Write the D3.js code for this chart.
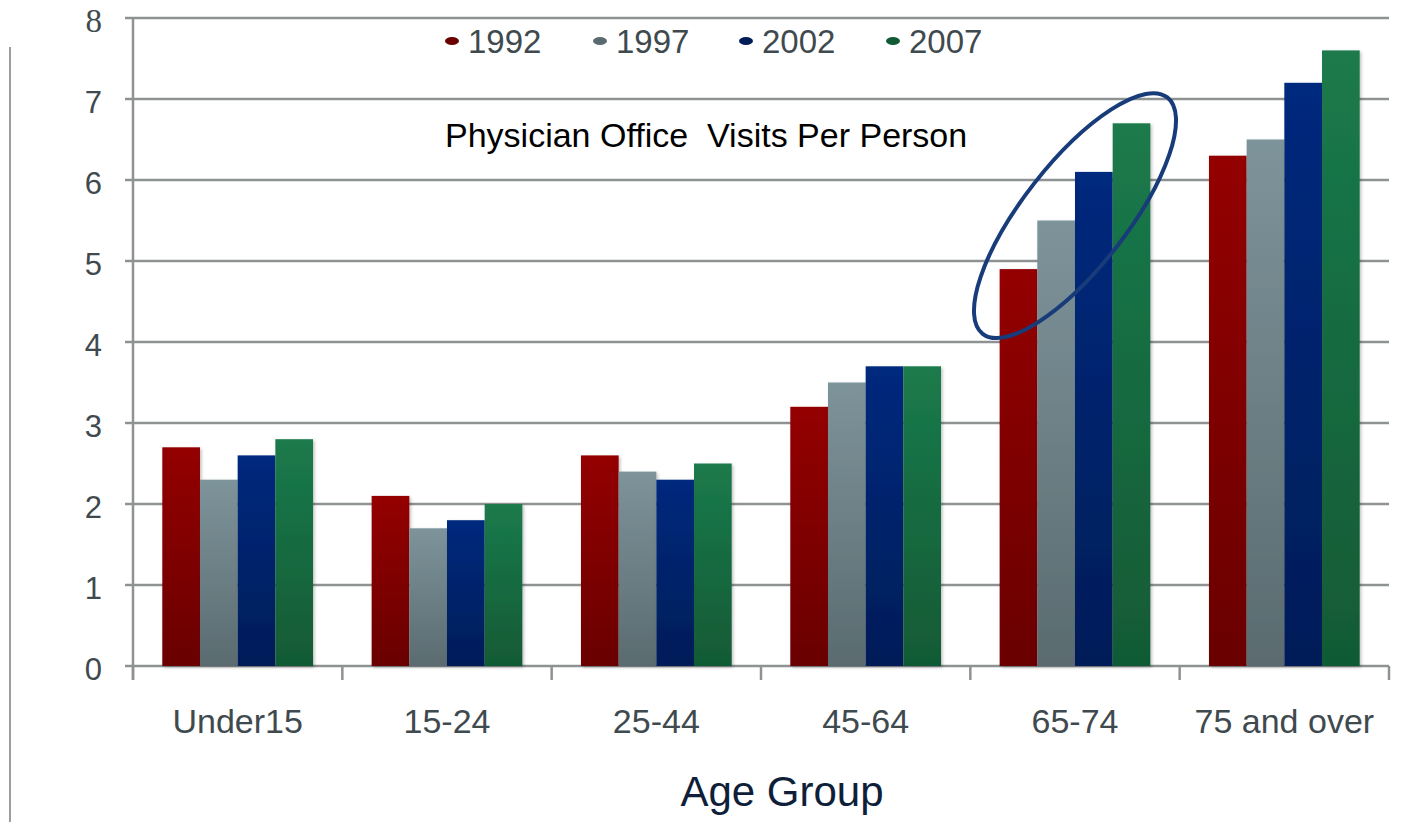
<!DOCTYPE html>
<html>
<head>
<meta charset="utf-8">
<script src="https://cdn.jsdelivr.net/npm/d3@7"></script>
<style>
  body { margin: 0; background: #fff; }
  svg { display: block; font-family: "Liberation Sans", Arial, sans-serif; }
</style>
</head>
<body>
<svg></svg>
<script>
// data
const ageGroups = ["Under15", "15-24", "25-44", "45-64", "65-74", "75 and over"]
const years = ["1992", "1997", "2002", "2007"]
const visits1992 = [2.7, 2.1, 2.6, 3.2, 4.9, 6.3]
const visits1997 = [2.3, 1.7, 2.4, 3.5, 5.5, 6.5]
const visits2002 = [2.6, 1.8, 2.3, 3.7, 6.1, 7.2]
const visits2007 = [2.8, 2.0, 2.5, 3.7, 6.7, 7.6]
const yTicks = [0, 1, 2, 3, 4, 5, 6, 7, 8]

const seriesValues = [visits1992, visits1997, visits2002, visits2007]
const topColors = ["#940000", "#7d949a", "#00297e", "#1b7a4b"]
const bottomColors = ["#690000", "#5a6b70", "#001d58", "#115a35"]

let width = 1416
let height = 822
const plotLeft = 133, plotRight = 1389, plotTop = 18, plotBottom = 666

const svg = d3.select('svg').attr('width', width).attr('height', height)

const xScale = d3.scaleBand().domain(ageGroups).range([plotLeft, plotRight])
  .paddingInner(0.28).paddingOuter(0.14)
const xInner = d3.scaleBand().domain(years).range([0, xScale.bandwidth()])
const yScale = d3.scaleLinear().domain([0, 8]).range([plotBottom, plotTop])

// gradients + shadow
const defs = svg.append('defs')
years.forEach((y, i) => {
  const g = defs.append('linearGradient').attr('id', 'grad' + y)
    .attr('x1', 0).attr('y1', 0).attr('x2', 0).attr('y2', 1)
  g.append('stop').attr('offset', '0%').attr('stop-color', topColors[i])
  g.append('stop').attr('offset', '100%').attr('stop-color', bottomColors[i])
})
const shadow = defs.append('filter').attr('id', 'shadow')
  .attr('x', '-10%').attr('y', '-5%').attr('width', '130%').attr('height', '115%')
shadow.append('feDropShadow').attr('dx', 1.5).attr('dy', 1.5).attr('stdDeviation', 1.5)
  .attr('flood-color', '#000').attr('flood-opacity', 0.25)

// left rule line
svg.append('line').attr('x1', 10).attr('x2', 10).attr('y1', 47).attr('y2', 822)
  .attr('stroke', '#9a9e9e').attr('stroke-width', 2)

// gridlines
svg.append('g').selectAll('line').data(yTicks).enter().append('line')
  .attr('x1', plotLeft - 8).attr('x2', plotRight)
  .attr('y1', d => yScale(d)).attr('y2', d => yScale(d))
  .attr('stroke', '#8e9292').attr('stroke-width', 2.5)

// y axis line
svg.append('line').attr('x1', plotLeft).attr('x2', plotLeft).attr('y1', plotTop).attr('y2', plotBottom + 14)
  .attr('stroke', '#8e9292').attr('stroke-width', 2.5)

// y tick labels ("8" is set in a serif face in the original)
svg.append('g').selectAll('text').data(yTicks).enter().append('text')
  .attr('x', 102).attr('y', d => yScale(d) + 14)
  .attr('text-anchor', 'end')
  .attr('font-size', d => d === 8 ? 33 : 31)
  .attr('font-family', d => d === 8 ? '"Liberation Serif", serif' : null)
  .attr('fill', '#3f4a4f')
  .text(d => d)

// x axis ticks at band edges
const edges = ageGroups.map(a => xScale(a) - xScale.step() * xScale.paddingInner() / 2)
edges.push(plotRight)
svg.append('g').selectAll('line').data(edges).enter().append('line')
  .attr('x1', d => d).attr('x2', d => d).attr('y1', plotBottom).attr('y2', plotBottom + 14)
  .attr('stroke', '#8e9292').attr('stroke-width', 2.5)

// bars
const groups = svg.append('g').selectAll('g').data(ageGroups).enter().append('g')
  .attr('transform', d => 'translate(' + xScale(d) + ',0)')
groups.selectAll('rect').data((d, i) => years.map((y, s) => ({ year: y, value: seriesValues[s][i] })))
  .enter().append('rect')
  .attr('x', d => xInner(d.year))
  .attr('width', xInner.bandwidth())
  .attr('y', d => yScale(d.value))
  .attr('height', d => plotBottom - yScale(d.value))
  .attr('fill', d => 'url(#grad' + d.year + ')')
  .attr('filter', 'url(#shadow)')

// x labels
svg.append('g').selectAll('text').data(ageGroups).enter().append('text')
  .attr('x', d => xScale(d) + xScale.bandwidth() / 2)
  .attr('y', 733)
  .attr('text-anchor', 'middle')
  .attr('font-size', 34)
  .attr('fill', '#3f4a4f')
  .text(d => d)

// axis title
svg.append('text').attr('x', 782).attr('y', 806).attr('text-anchor', 'middle')
  .attr('font-size', 42).attr('fill', '#0f1f3a').text('Age Group')

// legend
const legendX = [452, 600, 746, 893]
const legend = svg.append('g').selectAll('g').data(years).enter().append('g')
  .attr('transform', (d, i) => 'translate(' + legendX[i] + ',41)')
legend.append('ellipse').attr('rx', 7).attr('ry', 4)
  .attr('fill', (d, i) => bottomColors[i])
legend.append('text').attr('x', 16).attr('y', 12).attr('font-size', 33)
  .attr('fill', '#3f4a4f').text(d => d)

// chart title inside plot
svg.append('text').attr('x', 445).attr('y', 147).attr('font-size', 34)
  .attr('fill', '#000').style('white-space', 'pre')
  .text('Physician Office  Visits Per Person')

// highlight ellipse around 65-74
const hx = xScale('65-74') + xScale.bandwidth() / 2
const hy = yScale(5.56)
svg.append('ellipse').attr('cx', 0).attr('cy', 0).attr('rx', 150).attr('ry', 52)
  .attr('transform', 'translate(' + hx + ',' + hy + ') rotate(-52)')
  .attr('fill', 'none').attr('stroke', '#183b7a').attr('stroke-width', 4)
</script>
</body>
</html>
